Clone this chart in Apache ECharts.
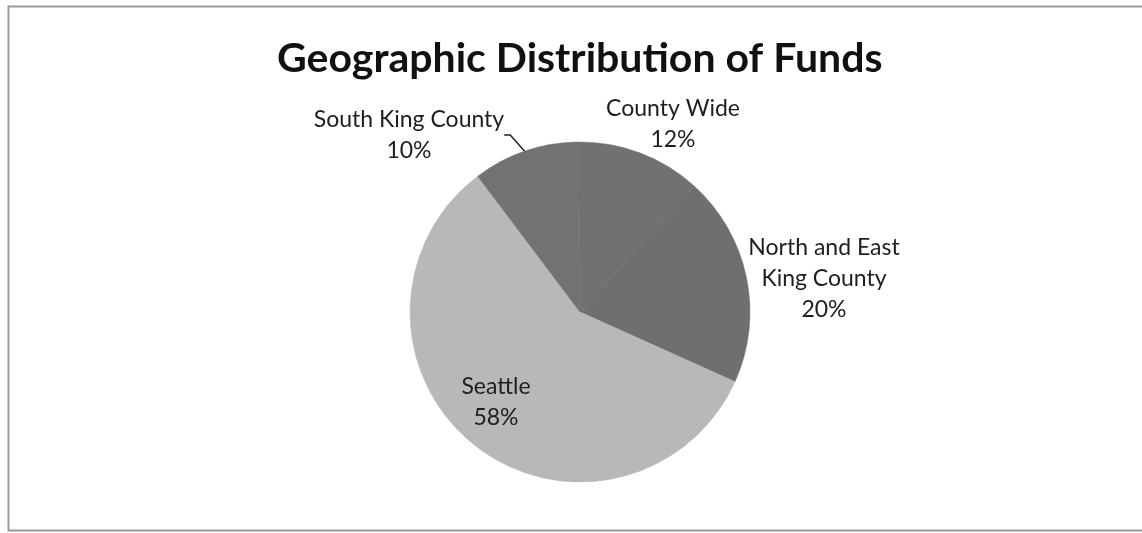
<!DOCTYPE html>
<html>
<head>
<meta charset="utf-8">
<script src="https://cdn.jsdelivr.net/npm/echarts@6/dist/echarts.min.js"></script>
<style>
html,body{margin:0;padding:0;background:#fff;}
#chart{width:1142px;height:533px;}
</style>
</head>
<body>
<div id="chart"></div>
<script>
const categories = ['County Wide', 'North and East\nKing County', 'Seattle', 'South King County'];
const values = [12, 20, 58, 10];
const colors = ['#717171', '#6f6f6f', '#b8b8b8', '#727272'];

const labelCenters = [
  [673, 124],
  [824, 279],
  [496, 402],
  [409, 135]
];

const chart = echarts.init(document.getElementById('chart'));
chart.setOption({
  backgroundColor: '#ffffff',
  animation: false,
  title: {
    text: 'Geographic Distribution of Funds',
    left: 272,
    top: 33,
    textStyle: {
      fontFamily: 'Lato',
      fontWeight: 'bold',
      fontSize: 41,
      color: '#111111'
    }
  },
  graphic: [{
    type: 'rect',
    shape: { x: 8.5, y: 6.5, width: 1200, height: 524 },
    style: { fill: 'none', stroke: '#9a9a9a', lineWidth: 2 },
    silent: true
  }],
  series: [{
    type: 'pie',
    center: [580, 312],
    radius: 170,
    startAngle: 91,
    clockwise: true,
    data: categories.map((c, i) => ({
      name: c,
      value: values[i],
      itemStyle: { color: colors[i], borderColor: colors[i], borderWidth: 0.5 },
      labelLine: { show: i === 3 }
    })),
    label: {
      show: true,
      position: 'outside',
      formatter: p => p.name + '\n' + p.value + '%',
      fontFamily: 'Lato',
      fontSize: 23,
      lineHeight: 31,
      color: '#1e1e1e',
      align: 'center'
    },
    labelLine: {
      show: true,
      length: 12,
      length2: 6,
      lineStyle: { color: '#222', width: 1.5 }
    },
    labelLayout: function (p) {
      const c = labelCenters[p.dataIndex];
      return { x: c[0], y: c[1], align: 'center', verticalAlign: 'middle' };
    },
    emphasis: { disabled: true }
  }]
});
</script>
</body>
</html>
